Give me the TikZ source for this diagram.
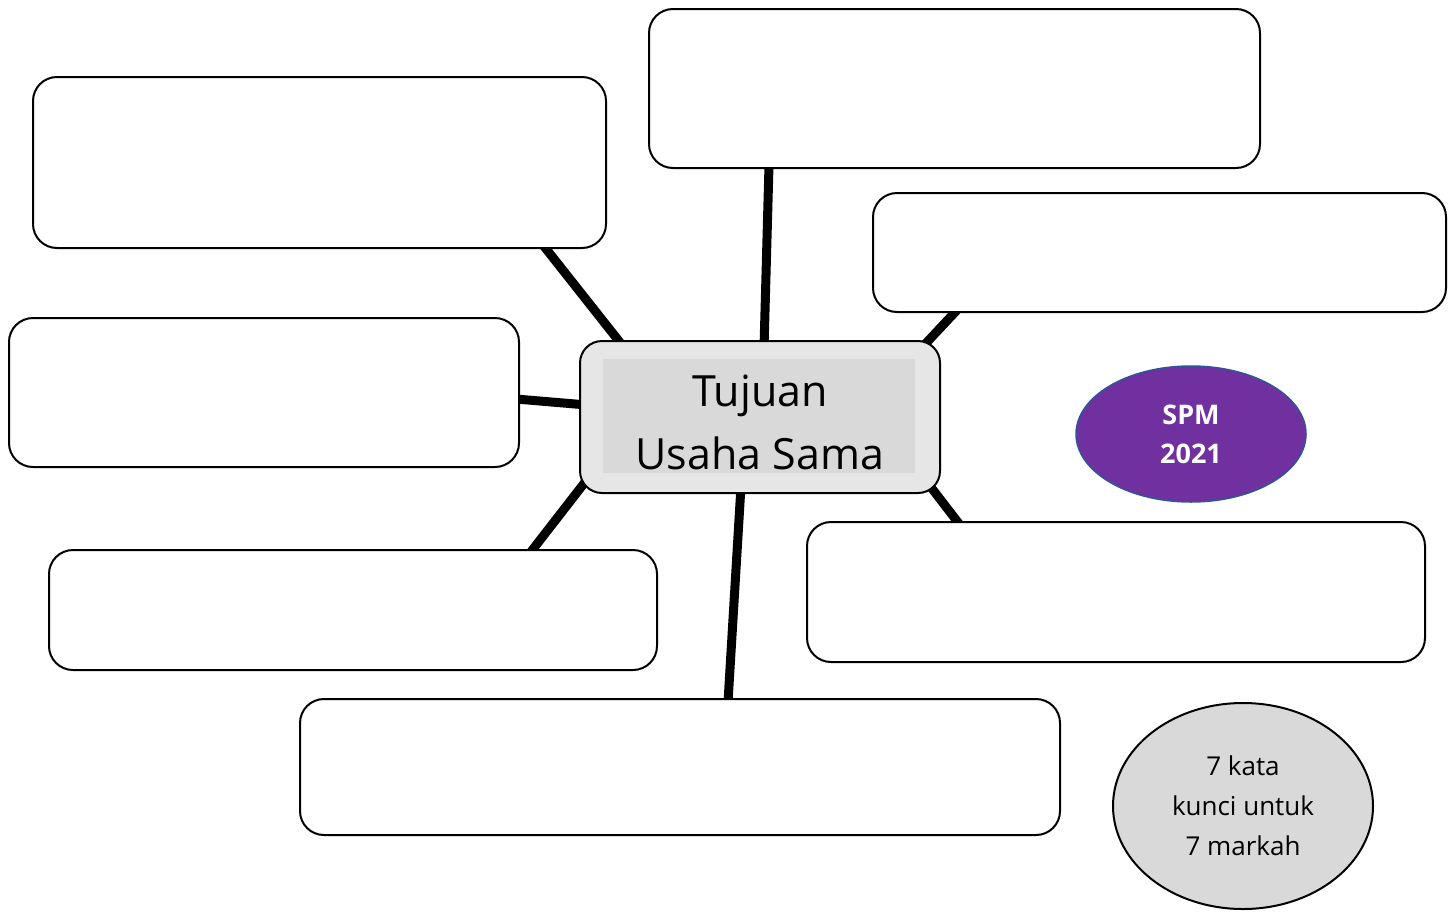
\documentclass[tikz,border=0pt]{standalone}
\usepackage{fontspec}
\setmainfont{Open Sans}
\usetikzlibrary{shapes.geometric,backgrounds}
\definecolor{outergrey}{HTML}{E6E6E6}
\definecolor{innergrey}{HTML}{D9D9D9}
\definecolor{spmpurple}{HTML}{7030A0}
\definecolor{spmborder}{HTML}{2F5597}
\tikzset{
  blank/.style={draw=black, line width=2pt, rounded corners=24pt, fill=white, anchor=north west, inner sep=0pt},
  link/.style={line width=9pt, black},
}
\begin{document}
\begin{tikzpicture}[x=1pt,y=-1pt]
\useasboundingbox (0,0) rectangle (1455,913);
% boxes
\node[blank, minimum width=573pt, minimum height=171pt] (tl) at (32,76) {};
\node[blank, minimum width=611pt, minimum height=159pt] (tc) at (648,8) {};
\node[blank, minimum width=573pt, minimum height=119pt] (ru) at (872,192) {};
\node[blank, minimum width=510pt, minimum height=149pt] (lm) at (8,317) {};
\node[blank, minimum width=608pt, minimum height=120pt] (bl) at (48,549) {};
\node[blank, minimum width=618pt, minimum height=140pt] (rl) at (806,521) {};
\node[blank, minimum width=760pt, minimum height=136pt] (bc) at (299,698) {};
% centre
\node[draw=black, line width=2pt, rounded corners=22pt, fill=outergrey, anchor=north west,
  minimum width=360pt, minimum height=152pt, inner sep=0pt] (c) at (579,340) {};
\fill[innergrey] (603,359) rectangle (915,473);
\node[font=\fontsize{43}{63}\selectfont, align=center, inner sep=0pt] (ct) at (760,422) {Tujuan\\Usaha Sama};
% ellipses
\node[ellipse, draw=spmborder, line width=1.5pt, fill=spmpurple, minimum width=230pt, minimum height=136pt,
  text=white, font=\fontsize{27}{39}\selectfont\bfseries, align=center, inner sep=0pt] (spm) at (1191,434) {SPM\\2021};
\node[ellipse, draw=black, line width=2pt, fill=innergrey, minimum width=260pt, minimum height=206pt,
  font=\fontsize{26}{40}\selectfont, align=center, inner sep=0pt] (km) at (1243,806) {7 kata\\kunci untuk\\7 markah};
% connectors
\begin{scope}[on background layer]
\draw[link] ([xshift=511pt,yshift=4pt]tl.south west) -- ([xshift=47pt,yshift=-10pt]c.north west);
\draw[link] ([xshift=121pt,yshift=4pt]tc.south west) -- ([xshift=185pt,yshift=-8pt]c.north west);
\draw[link] ([xshift=86pt,yshift=4pt]ru.south west) -- ([xshift=-27pt,yshift=-16pt]c.north east);
\draw[link] ([xshift=-4pt,yshift=-6.5pt]lm.east) -- ([xshift=8pt,yshift=12pt]c.west);
\draw[link] ([xshift=482pt,yshift=-4pt]bl.north west) -- ([xshift=17pt,yshift=26pt]c.south west);
\draw[link] ([xshift=429pt,yshift=-4pt]bc.north west) -- ([xshift=162pt,yshift=8pt]c.south west);
\draw[link] ([xshift=154pt,yshift=-4pt]rl.north west) -- ([xshift=-21pt,yshift=21pt]c.south east);
\end{scope}
\end{tikzpicture}
\end{document}
